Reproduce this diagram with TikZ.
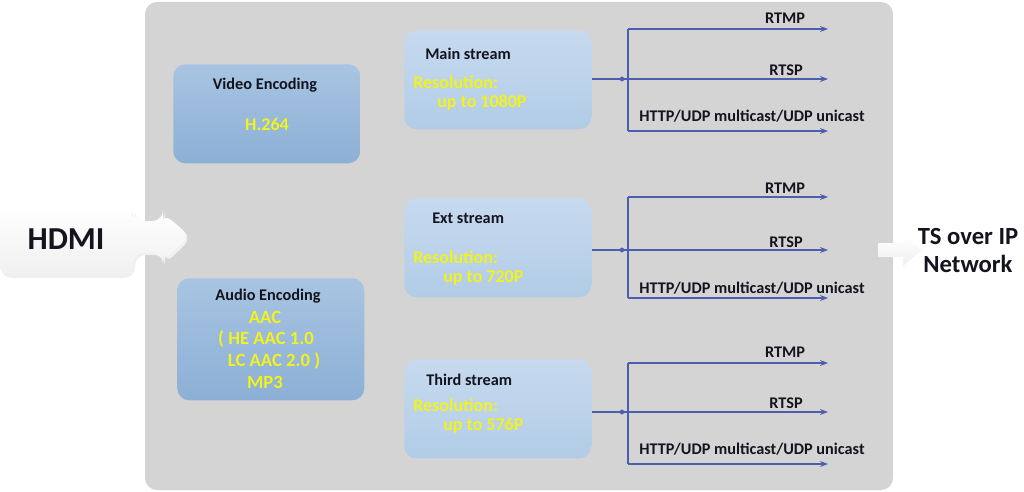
\documentclass[tikz,border=0pt]{standalone}
\usepackage{fontspec}
\setmainfont{Carlito}
\usetikzlibrary{arrows.meta,shapes.geometric}
\definecolor{panelc}{RGB}{212,212,212}
\definecolor{encT}{RGB}{168,196,226}
\definecolor{encB}{RGB}{140,176,213}
\definecolor{strT}{RGB}{198,218,239}
\definecolor{strB}{RGB}{178,204,230}
\definecolor{yel}{RGB}{242,242,30}
\definecolor{connc}{RGB}{76,94,172}
\definecolor{txt}{RGB}{20,20,30}
\tikzset{
  encbox/.style={rectangle, rounded corners=9pt, top color=encT, bottom color=encB, draw=none, anchor=north west, inner sep=0pt, minimum width=140.25pt},
  strbox/.style={rectangle, rounded corners=9pt, top color=strT, bottom color=strB, draw=none, anchor=north west, inner sep=0pt, minimum width=140.25pt, minimum height=74.25pt},
  ttl/.style={font=\bfseries\fontsize{12.2}{14}\selectfont, text=txt, inner sep=0pt},
  yt/.style={font=\bfseries\fontsize{13.5}{15}\selectfont, text=yel, inner sep=0pt},
  ya/.style={font=\bfseries\fontsize{14}{16}\selectfont, text=yel, inner sep=0pt},
  lbl/.style={font=\bfseries\fontsize{12.2}{14}\selectfont, text=txt, inner sep=0pt},
  big/.style={font=\bfseries\fontsize{18.5}{22}\selectfont, text=txt, inner sep=0pt},
  conn/.style={draw=connc, line width=1.1pt},
  arr/.style={conn, -{Stealth[length=6pt,width=4.5pt]}},
  jdot/.style={diamond, fill=connc, inner sep=0pt, minimum width=6pt, minimum height=4pt},
  wharrow/.style={top color=white, bottom color=gray!12, draw=none},
}
\begin{document}
\begin{tikzpicture}[x=0.75pt,y=-0.75pt]
\useasboundingbox (0,0) rectangle (1024,492);
\fill[white] (0,0) rectangle (1024,492);
% panel
\fill[panelc, rounded corners=9pt] (145,2) rectangle (893,490);

% HDMI input arrow
\fill[gray!12, rounded corners=8pt] (1,210) -- (135,210) -- (135,223) -- (165,223) -- (165,215) -- (192,238) -- (165,264) -- (165,255) -- (135,255) -- (135,278) -- (1,278) -- cycle;
\path[wharrow, rounded corners=8pt] (0,208) -- (133,208) -- (133,221) -- (163,221) -- (163,213) -- (190,236) -- (163,262) -- (163,253) -- (133,253) -- (133,276) -- (0,276) -- cycle;
\node[big, font=\bfseries\fontsize{24}{28}\selectfont] (hdmi) at (66,239) {HDMI};

% output arrow
\path[wharrow] (878,243) -- (903,243) -- (903,234) -- (922,250) -- (903,266) -- (903,257) -- (878,257) -- cycle;
\node[big] (ts1) at (968,237) {TS over IP};
\node[big] (ts2) at (968,264) {Network};

% encoding boxes
\node[encbox, minimum height=74.25pt] (video) at (173,64) {};
\node[ttl] (vt) at (265,85) {Video Encoding};
\node[yt] (vy) at (267,124) {H.264};

\node[encbox, minimum height=91.5pt] (audio) at (177,278) {};
\node[ttl] (at) at (268,296) {Audio Encoding};
\node[ya] (a1) at (265,317) {AAC};
\node[ya] (a2) at (266,339) {( HE AAC 1.0};
\node[ya] (a3) at (274,361) {LC AAC 2.0 )};
\node[ya] (a4) at (265,382) {MP3};

% stream boxes
\node[strbox] (main) at (404,30) {};
\node[ttl, anchor=west] (mt) at (425,54) {Main stream};
\node[yt, anchor=west] (mr) at (413,82) {Resolution:};
\node[yt, anchor=west] (mu) at (437,103) {up to 1080P};

\node[strbox] (ext) at (404,198) {};
\node[ttl, anchor=west] (et) at (432,218) {Ext stream};
\node[yt, anchor=west] (er) at (413,257) {Resolution:};
\node[yt, anchor=west] (eu) at (443,278) {up to 720P};

\node[strbox] (third) at (404,359) {};
\node[ttl, anchor=west] (tt) at (426,380) {Third stream};
\node[yt, anchor=west] (tr) at (413,405) {Resolution:};
\node[yt, anchor=west] (tu) at (443,426) {up to 576P};

% connectors: main
\coordinate (m0) at (628,79);
\coordinate (mA) at (628,29);
\coordinate (mB) at (628,131);
\coordinate (m1) at (828,29);
\coordinate (m2) at (828,79);
\coordinate (m3) at (828,131);
\draw[conn] (main.east |- m0) -- (m0);
\draw[conn] (mA) -- (mB);
\draw[arr] (mA) -- (m1);
\draw[arr] (m0) -- (m2);
\draw[arr] (mB) -- (m3);
\node[jdot] (md) at (622,79) {};
\node[lbl] (ml1) at (785,18) {RTMP};
\node[lbl] (ml2) at (786,70) {RTSP};
\node[lbl] (ml3) at (752,116) {HTTP/UDP multicast/UDP unicast};

% connectors: ext
\coordinate (e0) at (628,250);
\coordinate (eA) at (628,197);
\coordinate (eB) at (628,298);
\coordinate (e1) at (828,197);
\coordinate (e2) at (828,250);
\coordinate (e3) at (828,298);
\draw[conn] (ext.east |- e0) -- (e0);
\draw[conn] (eA) -- (eB);
\draw[arr] (eA) -- (e1);
\draw[arr] (e0) -- (e2);
\draw[arr] (eB) -- (e3);
\node[jdot] (ed) at (622,250) {};
\node[lbl] (el1) at (785,188) {RTMP};
\node[lbl] (el2) at (786,242) {RTSP};
\node[lbl] (el3) at (752,288) {HTTP/UDP multicast/UDP unicast};

% connectors: third
\coordinate (t0) at (628,412);
\coordinate (tA) at (628,363);
\coordinate (tB) at (628,464);
\coordinate (t1) at (828,363);
\coordinate (t2) at (828,412);
\coordinate (t3) at (828,464);
\draw[conn] (third.east |- t0) -- (t0);
\draw[conn] (tA) -- (tB);
\draw[arr] (tA) -- (t1);
\draw[arr] (t0) -- (t2);
\draw[arr] (tB) -- (t3);
\node[jdot] (td) at (622,412) {};
\node[lbl] (tl1) at (785,352) {RTMP};
\node[lbl] (tl2) at (786,403) {RTSP};
\node[lbl] (tl3) at (752,449) {HTTP/UDP multicast/UDP unicast};
\end{tikzpicture}
\end{document}
